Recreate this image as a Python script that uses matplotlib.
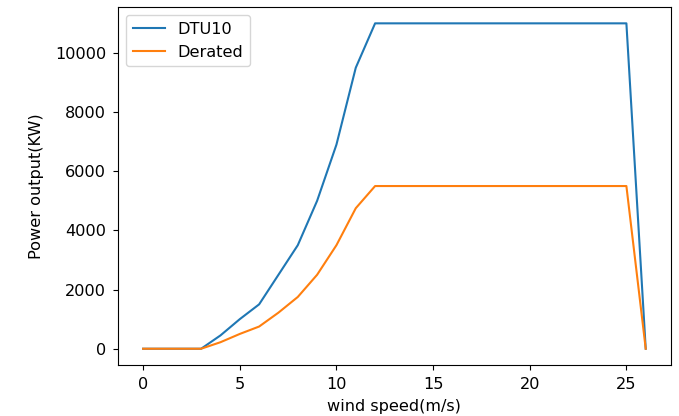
import numpy as np
import matplotlib
matplotlib.use('Agg')
import matplotlib.pyplot as plt
matplotlib.rcParams.update({'font.size': 11.6})

# wind speeds (m/s) and power (kW)
ws = np.arange(0, 27)
dtu10 = [0, 0, 0, 0, 450, 1000, 1500, 2500, 3500, 5000, 6900, 9500, 11000,
         11000, 11000, 11000, 11000, 11000, 11000, 11000, 11000, 11000, 11000,
         11000, 11000, 11000, 0]
derated = [0, 0, 0, 0, 220, 500, 750, 1220, 1750, 2500, 3500, 4750, 5500,
           5500, 5500, 5500, 5500, 5500, 5500, 5500, 5500, 5500, 5500,
           5500, 5500, 5500, 0]

fig = plt.figure(figsize=(6.79, 4.16), dpi=100)
ax = fig.add_axes([0.1738, 0.1226, 0.988 - 0.1738, 0.983 - 0.1226])
ax.plot(ws, dtu10, label='DTU10')
ax.plot(ws, derated, label='Derated')
ax.tick_params(pad=5)
ax.set_xlabel('wind speed(m/s)', labelpad=5)
ax.set_ylabel('Power output(KW)', labelpad=8)
ax.legend(loc='upper left')
fig.savefig('out.png', dpi=100)
